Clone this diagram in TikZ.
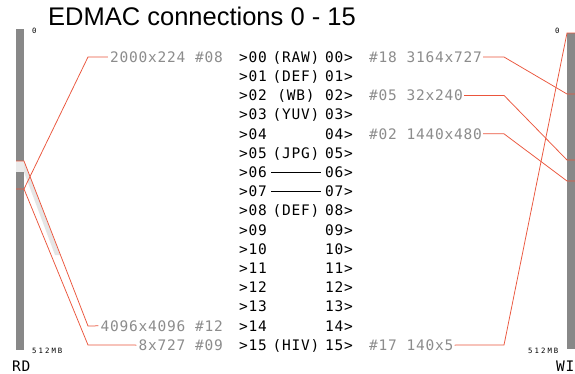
\documentclass[tikz,border=0pt]{standalone}
\usepackage{fontspec}
\usetikzlibrary{calc}
\setmainfont{Liberation Sans}
\setmonofont[LetterSpace=5.5]{DejaVu Sans Mono}
\newfontfamily\tinymono[LetterSpace=28]{DejaVu Sans Mono}
\definecolor{lnred}{RGB}{235,85,60}
\definecolor{bargray}{RGB}{136,136,136}
\definecolor{txtgray}{RGB}{140,140,140}
\begin{document}
\begin{tikzpicture}[x=1pt,y=-1pt,
  mono/.style={font=\ttfamily\fontsize{14.5}{14.5}\selectfont, inner sep=0pt},
  gl/.style={mono, text=txtgray},
  bl/.style={mono, text=black},
  tiny/.style={font=\tinymono\fontsize{7.3}{7.3}\selectfont, inner sep=0pt},
  link/.style={draw=lnred, line width=0.75pt},
  bar/.style={fill=bargray, draw=none}]
\useasboundingbox (0,0) rectangle (575,373);
\fill[white] (0,0) rectangle (575,373);
% title
\node[anchor=base west, inner sep=0pt, font=\fontsize{25.5}{25.5}\selectfont] (title) at (48,25) {EDMAC connections 0 - 15};
% bars
\fill[bar] (16,29) rectangle (24,350);
\fill[black!8] (16,161) rectangle (24,172);
\fill[black!10] (24,161) -- (60,255) -- (55,255) -- (24,172) -- cycle;
\fill[bar] (567,33) rectangle (576,349);
\node[tiny, anchor=base west] (l0) at (32,33) {0};
\node[tiny, anchor=base west] (lmb) at (32,353) {512MB};
\node[tiny, anchor=base west] (r0) at (555,33) {0};
\node[tiny, anchor=base west] (rmb) at (528,353) {512MB};
\node[bl, anchor=base west] (rd) at (12,371) {RD};
\node[bl, anchor=base east] (wi) at (574.5,371) {WI};
% rows
\foreach \i/\n in {0/00,1/01,2/02,3/03,4/04,5/05,6/06,7/07,8/08,9/09,10/10,11/11,12/12,13/13,14/14,15/15}{
  \pgfmathsetmacro{\yy}{57+19.2*\i+5.3}
  \node[bl, anchor=base west] (in\n) at (239,\yy) {>\n};
  \node[bl, anchor=base east] (out\n) at (353,\yy) {\n>};
}
\foreach \n/\t in {00/(RAW),01/(DEF),02/(WB),03/(YUV),05/(JPG),08/(DEF),15/(HIV)}{
  \node[bl, anchor=base] (mid\n) at (296,0 |- in\n.base) {\t};
}
\draw[black, line width=0.7pt] ([xshift=4pt]in06.east) -- ([xshift=-4pt]out06.west);
\draw[black, line width=0.7pt] ([xshift=4pt]in07.east) -- ([xshift=-4pt]out07.west);
% left buffers
\node[gl, anchor=base east] (b08) at (223,62.3) {2000x224 \#08};
\node[gl, anchor=base east] (b12) at (223,331.1) {4096x4096 \#12};
\node[gl, anchor=base east] (b09) at (223,350.3) {8x727 \#09};
\coordinate (ka) at (24,189);
\coordinate (kb) at (24,161);
\coordinate (kal) at (16,189);
\coordinate (kbl) at (16,161);
\draw[link] ([xshift=-2pt]b08.west |- in00.east) -- (88,57) -- (ka) -- (kal);
\draw[link] ([xshift=-2pt]b12.west |- in14.east) -- (88,326) -- (kb) -- (kbl);
\draw[link] ([xshift=-2pt]b09.west |- in15.east) -- (88,345) -- (ka);
% right buffers
\node[gl, anchor=base west] (b18) at (369,62.3) {\#18 3164x727};
\node[gl, anchor=base west] (b05) at (369,100.7) {\#05 32x240};
\node[gl, anchor=base west] (b02) at (369,139.1) {\#02 1440x480};
\node[gl, anchor=base west] (b17) at (369,350.3) {\#17 140x5};
\draw[link] ([xshift=1pt]b18.east |- out00.west) -- (504,57) -- (567,94) -- (576,94);
\draw[link] ([xshift=1pt]b05.east |- out02.west) -- (504,95.4) -- (567,160) -- (576,160);
\draw[link] ([xshift=1pt]b02.east |- out04.west) -- (504,133.8) -- (567,181) -- (576,181);
\draw[link] ([xshift=1pt]b17.east |- out15.west) -- (504,345) -- (567,33) -- (576,33);
\end{tikzpicture}
\end{document}
